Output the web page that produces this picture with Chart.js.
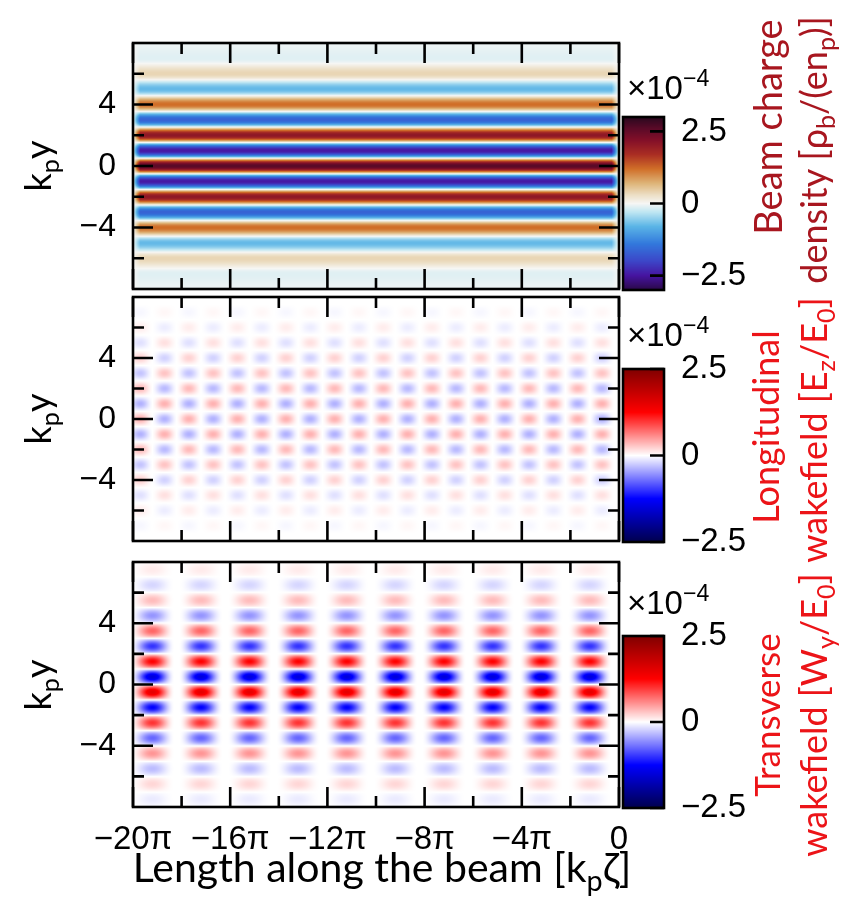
<!DOCTYPE html>
<html>
<head>
<meta charset="utf-8">
<script src="https://cdn.jsdelivr.net/npm/chart.js"></script>
<style>
html,body{margin:0;padding:0;background:#fff;}
#wrap{position:relative;width:859px;height:897px;overflow:hidden;background:#fff;}
#wrap canvas{position:absolute;left:0;top:0;}
.t{position:absolute;white-space:nowrap;font-family:Lato,'Open Sans',sans-serif;line-height:1;color:#000;}
.rot{width:400px;margin-left:-200px;text-align:center;transform:translateY(-50%) rotate(-90deg);transform-origin:50% 50%;}
.t sub{font-size:0.7em;position:relative;top:0.3em;vertical-align:baseline;line-height:0;}
.t sup{font-size:0.7em;position:relative;top:-0.55em;vertical-align:baseline;line-height:0;}
.cbx{font-family:'Liberation Sans',Arial,sans-serif;font-size:33px;}
</style>
</head>
<body>
<div id="wrap">
  <canvas id="p0" width="859" height="897"></canvas>
  <canvas id="p1" width="859" height="897"></canvas>
  <canvas id="p2" width="859" height="897"></canvas>
  <canvas id="c0" width="859" height="897"></canvas>
  <canvas id="c1" width="859" height="897"></canvas>
  <canvas id="c2" width="859" height="897"></canvas>

  <div class="t rot" style="left:37px;top:166px;font-size:36px;">k<sub>p</sub>y</div>
  <div class="t rot" style="left:37px;top:419px;font-size:36px;">k<sub>p</sub>y</div>
  <div class="t rot" style="left:37px;top:685px;font-size:36px;">k<sub>p</sub>y</div>

  <div class="t" style="left:382px;top:846px;font-size:41px;transform:translateX(-50%);">Length along the beam [k<sub>p</sub>ζ]</div>

  <div class="t cbx" style="left:627px;top:71px;">×10<sup>−4</sup></div>
  <div class="t cbx" style="left:627px;top:318px;">×10<sup>−4</sup></div>
  <div class="t cbx" style="left:627px;top:586px;">×10<sup>−4</sup></div>

  <div class="t rot" style="left:767px;top:127px;font-size:38px;color:#a8161f;">Beam charge</div>
  <div class="t rot" style="left:813px;top:150px;font-size:36px;color:#a8161f;">density [ρ<sub>b</sub>/(en<sub>p</sub>)]</div>
  <div class="t rot" style="left:765px;top:427px;font-size:36px;color:#ec1418;">Longitudinal</div>
  <div class="t rot" style="left:813px;top:430px;font-size:36px;color:#ec1418;">wakefield [E<sub>z</sub>/E<sub>0</sub>]</div>
  <div class="t rot" style="left:766px;top:715px;font-size:35px;color:#ec1418;">Transverse</div>
  <div class="t rot" style="left:813px;top:715px;font-size:36px;color:#ec1418;">wakefield [W<sub>y</sub>/E<sub>0</sub>]</div>
</div>
<script>
// ---------- axes (x in units of π, y in units of 1/k_p) ----------
const xTickValues = [-20, -16, -12, -8, -4, 0];
const xTickLabels = ['−20π', '−16π', '−12π', '−8π', '−4π', '0'];
const xMinorTicks = [-18, -14, -10, -6, -2];
const yTickValues = [-4, 0, 4];
const yTickLabels = ['−4', '0', '4'];
const yMinorTicks = [-6, -2, 2, 6];
const cbTickValues = [-2.5, 0, 2.5];
const cbTickLabels = ['−2.5', '0', '2.5'];

// ---------- panel 1: beam charge density (×1e-4), uniform along the beam ----------
const beamSpan = [-20, 0];
const beamRowY = [-8, -7, -6, -5, -4, -3, -2, -1, 0, 1, 2, 3, 4, 5, 6, 7, 8];
const beamRowV = [-0.05, -0.12, 0.38, -0.75, 1.2, -1.65, 2.05, -2.45, 2.6, -2.45, 2.05, -1.65, 1.2, -0.75, 0.38, -0.12, -0.05];

// ---------- panel 2: longitudinal wakefield Ez/E0 (×1e-4) ----------
const ezColX = [-19.7, -18.7, -17.7, -16.7, -15.7, -14.7, -13.7, -12.7, -11.7, -10.7, -9.7, -8.7, -7.7, -6.7, -5.7, -4.7, -3.7, -2.7, -1.7, -0.7];
const ezColF = [1, -1, 1, -1, 1, -1, 1, -1, 1, -1, 1, -1, 1, -1, 1, -1, 1, -1, 1, -1];
const ezRowY = [-7, -6, -5, -4, -3, -2, -1, 0, 1, 2, 3, 4, 5, 6, 7];
const ezRowV = [-0.04, 0.09, -0.15, 0.22, -0.29, 0.34, -0.38, 0.38, -0.38, 0.34, -0.29, 0.22, -0.15, 0.09, -0.04];

// ---------- panel 3: transverse wakefield Wy/E0 (×1e-4) ----------
const wyColX = [-19.2, -17.2, -15.2, -13.2, -11.2, -9.2, -7.2, -5.2, -3.2, -1.2];
const wyColF = [1, 1, 1, 1, 1, 1, 1, 1, 1, 1];
const wyRowY = [-7.5, -6.5, -5.5, -4.5, -3.5, -2.5, -1.5, -0.5, 0.5, 1.5, 2.5, 3.5, 4.5, 5.5, 6.5, 7.5];
const wyRowV = [-0.1, 0.2, -0.33, 0.52, -0.75, 1.0, -1.25, 1.5, -1.5, 1.25, -1.0, 0.75, -0.52, 0.33, -0.2, 0.1];

// ---------- colour maps (styling) ----------
const BEAM_STOPS = [[-3,42,8,72],[-2.5,70,20,160],[-2,60,70,200],[-1.4,50,120,220],[-0.8,90,180,230],[-0.3,190,230,242],[0,246,246,244],[0.3,236,222,196],[0.7,222,180,120],[1.2,208,110,40],[1.7,170,45,35],[2.2,130,15,40],[2.6,90,10,40],[3,40,8,30]];
const BWR_STOPS = [[-2.5,0,0,77],[-1.25,0,0,255],[0,255,255,255],[1.25,255,0,0],[2.5,128,0,0]];

function cmap(stops, v) {
  if (v <= stops[0][0]) return stops[0].slice(1);
  const n = stops.length;
  if (v >= stops[n-1][0]) return stops[n-1].slice(1);
  for (let i = 0; i < n - 1; i++) {
    const a = stops[i], b = stops[i+1];
    if (v >= a[0] && v <= b[0]) {
      const t = (v - a[0]) / (b[0] - a[0]);
      return [a[1] + (b[1]-a[1])*t, a[2] + (b[2]-a[2])*t, a[3] + (b[3]-a[3])*t];
    }
  }
  return [255,255,255];
}
function bump(u) { return Math.abs(u) >= 1 ? 0 : 0.5 * (1 + Math.cos(Math.PI * u)); }
function profile(centers, amps, hw, q) {
  let s = 0;
  for (let i = 0; i < centers.length; i++) s += amps[i] * bump((q - centers[i]) / hw);
  return s;
}

const panels = [
  { id:'p0', cb:'c0', top:43, bottom:289, showX:false, stops:BEAM_STOPS, range:3, cbTop:117, cbBottom:290,
    col:(x)=>{ const d=Math.min(x-beamSpan[0], beamSpan[1]-x)/0.3; return Math.max(0.15, Math.min(1, d)); },
    row:(y)=>profile(beamRowY, beamRowV, 1, y) },
  { id:'p1', cb:'c1', top:297, bottom:541, showX:false, stops:BWR_STOPS, range:2.5, cbTop:369, cbBottom:542,
    col:(x)=>profile(ezColX, ezColF, 0.55, x),
    row:(y)=>profile(ezRowY, ezRowV, 0.6, y) },
  { id:'p2', cb:'c2', top:562, bottom:807, showX:true, stops:BWR_STOPS, range:2.5, cbTop:636, cbBottom:808,
    col:(x)=>profile(wyColX, wyColF, 0.92, x),
    row:(y)=>profile(wyRowY, wyRowV, 0.7, y) }
];

Chart.defaults.font.family = "'Liberation Sans', Arial, Helvetica, sans-serif";
Chart.defaults.color = '#000';

const MAJOR = 20, MINOR = 11, LW = 2.6;

function heatPlugin(spec) {
  return {
    id: 'heat',
    beforeDatasetsDraw(chart) {
      const ca = chart.chartArea, xs = chart.scales.x, ys = chart.scales.y;
      const x0 = Math.round(ca.left), y0 = Math.round(ca.top);
      const W = Math.round(ca.right) - x0, H = Math.round(ca.bottom) - y0;
      const fx = new Float32Array(W), fy = new Float32Array(H);
      for (let i = 0; i < W; i++) fx[i] = spec.col(xs.getValueForPixel(x0 + i + 0.5));
      for (let j = 0; j < H; j++) fy[j] = spec.row(ys.getValueForPixel(y0 + j + 0.5));
      const off = document.createElement('canvas'); off.width = W; off.height = H;
      const octx = off.getContext('2d'); const img = octx.createImageData(W, H);
      for (let j = 0; j < H; j++) for (let i = 0; i < W; i++) {
        const c = cmap(spec.stops, fx[i] * fy[j]); const k = (j * W + i) * 4;
        img.data[k] = c[0]; img.data[k+1] = c[1]; img.data[k+2] = c[2]; img.data[k+3] = 255;
      }
      octx.putImageData(img, 0, 0);
      chart.ctx.drawImage(off, x0, y0);
    },
    afterDraw(chart) {
      const ca = chart.chartArea, xs = chart.scales.x, ys = chart.scales.y, ctx = chart.ctx;
      ctx.save(); ctx.strokeStyle = '#000'; ctx.lineWidth = LW; ctx.beginPath();
      const xt = xTickValues.map(v=>[v,MAJOR]).concat(xMinorTicks.map(v=>[v,MINOR]));
      xt.forEach(([v,len]) => { const p = xs.getPixelForValue(v);
        ctx.moveTo(p, ca.top); ctx.lineTo(p, ca.top + len);
        ctx.moveTo(p, ca.bottom); ctx.lineTo(p, ca.bottom - len); });
      const yt = yTickValues.map(v=>[v,MAJOR]).concat(yMinorTicks.map(v=>[v,MINOR]));
      yt.forEach(([v,len]) => { const p = ys.getPixelForValue(v);
        ctx.moveTo(ca.left, p); ctx.lineTo(ca.left + len, p);
        ctx.moveTo(ca.right, p); ctx.lineTo(ca.right - len, p); });
      ctx.stroke();
      ctx.strokeRect(ca.left, ca.top, ca.right - ca.left, ca.bottom - ca.top);
      ctx.restore();
    }
  };
}

function cbPlugin(spec) {
  return {
    id: 'cbar',
    beforeDatasetsDraw(chart) {
      const ca = chart.chartArea, ys = chart.scales.y, ctx = chart.ctx;
      for (let py = Math.round(ca.top); py < Math.round(ca.bottom); py++) {
        const c = cmap(spec.stops, ys.getValueForPixel(py + 0.5));
        ctx.fillStyle = 'rgb(' + c.map(Math.round).join(',') + ')';
        ctx.fillRect(ca.left, py, ca.right - ca.left, 1);
      }
    },
    afterDraw(chart) {
      const ca = chart.chartArea, ys = chart.scales.y, ctx = chart.ctx;
      ctx.save(); ctx.strokeStyle = '#000'; ctx.lineWidth = LW; ctx.beginPath();
      cbTickValues.forEach(v => { const p = ys.getPixelForValue(v);
        ctx.moveTo(ca.right, p); ctx.lineTo(ca.right - 14, p); });
      ctx.stroke();
      ctx.strokeRect(ca.left, ca.top, ca.right - ca.left, ca.bottom - ca.top);
      ctx.restore();
    }
  };
}

panels.forEach(spec => {
  new Chart(document.getElementById(spec.id), {
    type: 'scatter',
    data: { datasets: [] },
    options: {
      responsive: false, animation: false, devicePixelRatio: 1,
      layout: { padding: { left: 0, right: 240, top: spec.top, bottom: 0 } },
      plugins: { legend: { display: false }, tooltip: { enabled: false }, title: { display: false } },
      scales: {
        x: { type: 'linear', min: -20, max: 0, position: 'bottom',
          grid: { display: false }, border: { display: false },
          ticks: { display: spec.showX, padding: 5, autoSkip: false, maxRotation: 0, font: { size: 33 },
            callback: (v) => { const i = xTickValues.indexOf(v); return i >= 0 ? xTickLabels[i] : ''; } },
          afterBuildTicks: (s) => { s.ticks = xTickValues.map(v => ({ value: v })); },
          afterFit: (s) => { s.height = 897 - spec.bottom; } },
        y: { type: 'linear', min: -8, max: 8, position: 'left',
          grid: { display: false }, border: { display: false },
          ticks: { padding: 9, font: { size: 32 },
            callback: (v) => { const i = yTickValues.indexOf(v); return i >= 0 ? yTickLabels[i] : ''; } },
          afterBuildTicks: (s) => { s.ticks = yTickValues.map(v => ({ value: v })); },
          afterFit: (s) => { s.width = 133; } }
      }
    },
    plugins: [heatPlugin(spec)]
  });

  new Chart(document.getElementById(spec.cb), {
    type: 'scatter',
    data: { datasets: [] },
    options: {
      responsive: false, animation: false, devicePixelRatio: 1,
      layout: { padding: { left: 623, right: 0, top: spec.cbTop, bottom: 897 - spec.cbBottom } },
      plugins: { legend: { display: false }, tooltip: { enabled: false }, title: { display: false } },
      scales: {
        x: { display: false },
        y: { type: 'linear', min: -spec.range, max: spec.range, position: 'right',
          grid: { display: false }, border: { display: false },
          ticks: { padding: 9, font: { size: 33 },
            callback: (v) => { const i = cbTickValues.indexOf(v); return i >= 0 ? cbTickLabels[i] : ''; } },
          afterBuildTicks: (s) => { s.ticks = cbTickValues.map(v => ({ value: v })); },
          afterFit: (s) => { s.width = 859 - 664; } }
      }
    },
    plugins: [cbPlugin(spec)]
  });
});
</script>
</body>
</html>
